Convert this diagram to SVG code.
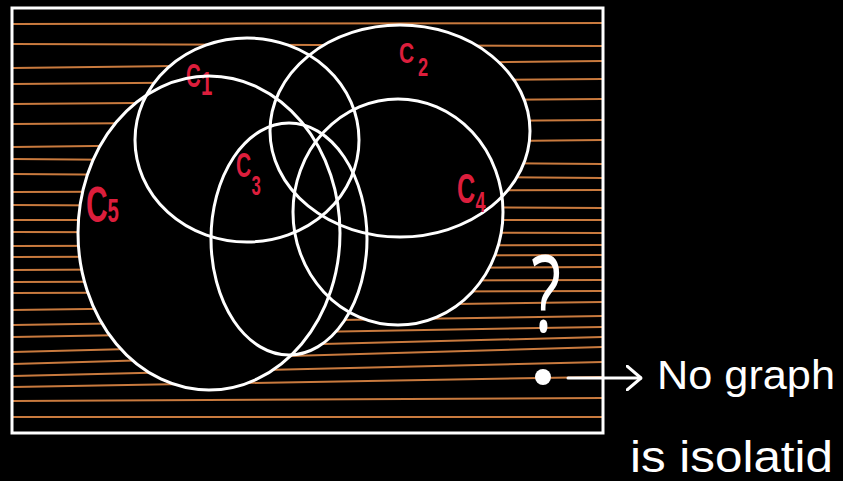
<svg xmlns="http://www.w3.org/2000/svg" width="843" height="481" viewBox="0 0 843 481">
<defs>
<style>
.hatch line{stroke:#c97a3e;stroke-width:2}
.fill{fill:#000;stroke:none}
.ring{fill:none;stroke:#fff;stroke-width:3}
.lbl{fill:#dc1e3c;font-weight:bold;font-family:"Liberation Sans","DejaVu Sans",sans-serif}
.note{fill:#fff;font-family:"Liberation Sans","DejaVu Sans",sans-serif}
</style>
<marker id="ah" viewBox="0 0 16 26" refX="15" refY="13" markerWidth="16" markerHeight="26" markerUnits="userSpaceOnUse" orient="auto">
<path d="M1 1 L15 13 L1 25" fill="none" stroke="#fff" stroke-width="3" stroke-linecap="round" stroke-linejoin="round"/>
</marker>
</defs>
<rect x="0" y="0" width="843" height="481" fill="#000"/>
<g id="hatching" class="hatch">
<line x1="13" y1="24" x2="602" y2="23"/>
<line x1="13" y1="44" x2="602" y2="46"/>
<line x1="13" y1="68" x2="602" y2="61"/>
<line x1="13" y1="84" x2="602" y2="79"/>
<line x1="13" y1="104" x2="602" y2="99"/>
<line x1="13" y1="124" x2="602" y2="120"/>
<line x1="13" y1="147" x2="602" y2="140"/>
<line x1="13" y1="159" x2="602" y2="164"/>
<line x1="13" y1="174" x2="602" y2="178"/>
<line x1="13" y1="192" x2="602" y2="190"/>
<line x1="13" y1="205" x2="602" y2="208"/>
<line x1="13" y1="220" x2="602" y2="220"/>
<line x1="13" y1="232" x2="602" y2="233"/>
<line x1="13" y1="246" x2="602" y2="245"/>
<line x1="13" y1="257" x2="602" y2="255"/>
<line x1="13" y1="270" x2="602" y2="267"/>
<line x1="13" y1="282" x2="602" y2="280"/>
<line x1="13" y1="293" x2="602" y2="291"/>
<line x1="13" y1="310" x2="602" y2="302"/>
<line x1="13" y1="325" x2="602" y2="316"/>
<line x1="13" y1="337" x2="602" y2="327"/>
<line x1="13" y1="352" x2="602" y2="337"/>
<line x1="13" y1="364" x2="602" y2="347"/>
<line x1="13" y1="376" x2="602" y2="362"/>
<line x1="13" y1="387" x2="602" y2="377"/>
<line x1="13" y1="401" x2="602" y2="398"/>
<line x1="13" y1="417" x2="602" y2="417"/>
</g>
<rect id="frame" x="12" y="8" width="591" height="425" fill="none" stroke="#fff" stroke-width="3"/>
<g id="interiors" class="fill">
<ellipse cx="247" cy="140" rx="112" ry="102"/>
<ellipse cx="400" cy="131" rx="130" ry="106"/>
<ellipse cx="289" cy="239" rx="78" ry="116"/>
<ellipse cx="398" cy="212" rx="105" ry="113"/>
<ellipse cx="209" cy="233" rx="131" ry="157"/>
</g>
<g id="C1"><ellipse class="ring" cx="247" cy="140" rx="112" ry="102"/><text class="lbl" transform="translate(186 0) scale(0.6 1)"><tspan x="0" y="87" font-size="34">C</tspan><tspan x="25" y="95" font-size="34">1</tspan></text></g>
<g id="C2"><ellipse class="ring" cx="400" cy="131" rx="130" ry="106"/><text class="lbl" transform="translate(399 0) scale(0.7 1)"><tspan x="0" y="63" font-size="30">C</tspan><tspan x="27" y="76" font-size="26">2</tspan></text></g>
<g id="C3"><ellipse class="ring" cx="289" cy="239" rx="78" ry="116"/><text class="lbl" transform="translate(236 0) scale(0.6 1)"><tspan x="0" y="177" font-size="35">C</tspan><tspan x="26" y="195" font-size="28">3</tspan></text></g>
<g id="C4"><ellipse class="ring" cx="398" cy="212" rx="105" ry="113"/><text class="lbl" transform="translate(457 0) scale(0.6 1)"><tspan x="0" y="203" font-size="42">C</tspan><tspan x="31" y="212" font-size="30">4</tspan></text></g>
<g id="C5"><ellipse class="ring" cx="209" cy="233" rx="131" ry="157"/><text class="lbl" transform="translate(86 0) scale(0.6 1)"><tspan x="0" y="222" font-size="50">C</tspan><tspan x="36" y="222" font-size="34">5</tspan></text></g>
<g id="question"><text class="note" x="0" y="332" font-size="106" text-anchor="middle" style="font-family:'Open Sans','DejaVu Sans',sans-serif" transform="translate(546 0) scale(0.65 1)">?</text></g>
<g id="vertex"><circle cx="543" cy="377" r="8" fill="#fff"/></g>
<g id="connectors"><line x1="568" y1="378" x2="641" y2="378" stroke="#fff" stroke-width="3" stroke-linecap="round" marker-end="url(#ah)"/></g>
<g id="note"><text class="note" x="657" y="389" font-size="40" textLength="178" lengthAdjust="spacingAndGlyphs">No graph</text><text class="note" x="630" y="472" font-size="44" textLength="203" lengthAdjust="spacingAndGlyphs">is isolatid</text></g>
</svg>
